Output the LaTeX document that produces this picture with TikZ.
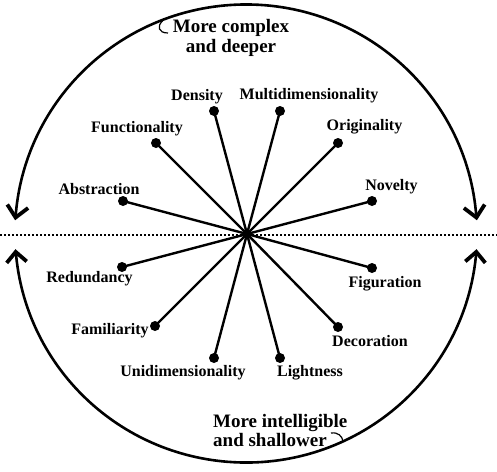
\documentclass[tikz,border=0pt]{standalone}
\usepackage{fontspec}
\setmainfont{Liberation Serif}
\begin{document}
\begin{tikzpicture}[x=1pt,y=-1pt,
  spoke/.style={line width=2.4pt},
  dotnode/.style={circle,fill=black,inner sep=0pt,minimum size=10pt},
  lbl/.style={font=\fontsize{16}{18}\selectfont\bfseries,inner sep=0pt,anchor=base},
  head/.style={font=\fontsize{19}{21}\selectfont\bfseries,inner sep=0pt},
  ring/.style={line width=2.6pt},
  chev/.style={line width=3.8pt,line join=miter,line cap=butt},
  curl/.style={line width=1.2pt},
  axis/.style={line width=1.8pt,dash pattern=on 2pt off 2pt}
]
\useasboundingbox (0,0) rectangle (497,471);
\coordinate (C) at (246,233.5);
\coordinate (O) at (247,234);
% dashed horizontal line
\coordinate (L) at (0,235);
\coordinate (R) at (497,235);
\draw[axis] (L) -- (R);
% outer arcs
\coordinate (TR) at (476.4,217.5);
\coordinate (TL) at (15.6,217.5);
\coordinate (BR) at (476.3,251.9);
\coordinate (BL) at (15.7,251.9);
\draw[ring] (TR) arc[start angle=4,end angle=176,x radius=231pt,y radius=229pt];
\draw[ring] (BR) arc[start angle=-4.6,end angle=-175.4,x radius=231pt,y radius=229pt];
% chevron heads
\draw[chev] (TL) ++(-8.3,-13) -- (TL) -- ++(12.5,-9.5);
\draw[chev] (TR) ++(8.3,-13) -- (TR) -- ++(-12.5,-9.5);
\draw[chev] (BL) ++(-9,11) -- (BL) -- ++(11,9.5);
\draw[chev] (BR) ++(9,11) -- (BR) -- ++(-11,9.5);
% dots
\node[dotnode] (d1) at (214,111) {};
\node[dotnode] (d2) at (280,111) {};
\node[dotnode] (d3) at (156,143) {};
\node[dotnode] (d4) at (338,143) {};
\node[dotnode] (d5) at (123,201) {};
\node[dotnode] (d6) at (372,201) {};
\node[dotnode] (d7) at (122,267) {};
\node[dotnode] (d8) at (372,268) {};
\node[dotnode] (d9) at (155,326) {};
\node[dotnode] (d10) at (338,327) {};
\node[dotnode] (d11) at (214,358) {};
\node[dotnode] (d12) at (280,358) {};
\foreach \i in {1,...,12} \draw[spoke] (O) -- (d\i.center);
% labels
\node[lbl] (t1) at (197,100) {Density};
\node[lbl] (t2) at (309,99.5) {Multidimensionality};
\node[lbl] (t3) at (137,132.7) {Functionality};
\node[lbl] (t4) at (364.5,130) {Originality};
\node[lbl] (t5) at (99,194) {Abstraction};
\node[lbl] (t6) at (391.5,190) {Novelty};
\node[lbl] (t7) at (89.5,282.7) {Redundancy};
\node[lbl] (t8) at (385,287.5) {Figuration};
\node[lbl] (t9) at (110,334) {Familiarity};
\node[lbl] (t10) at (370,346) {Decoration};
\node[lbl] (t11) at (183,376.7) {Unidimensionality};
\node[lbl] (t12) at (310,376.7) {Lightness};
% headlines
\node[head,anchor=base] (h1) at (231,32.5) {More complex};
\node[head,anchor=base] (h2) at (231,52) {and deeper};
\node[head,anchor=base west] (h3) at (213,427.5) {More intelligible};
\node[head,anchor=base west] (h4) at (213,446.7) {and shallower};
% curls
\coordinate (c1a) at (162.5,21);
\coordinate (c1b) at (168,33);
\draw[curl] (c1a) .. controls (157,26) and (158,33) .. (c1b);
\coordinate (c2a) at (331,433);
\coordinate (c2b) at (343,441);
\draw[curl] (c2a) .. controls (338,432) and (342,436) .. (c2b);
\end{tikzpicture}
\end{document}
